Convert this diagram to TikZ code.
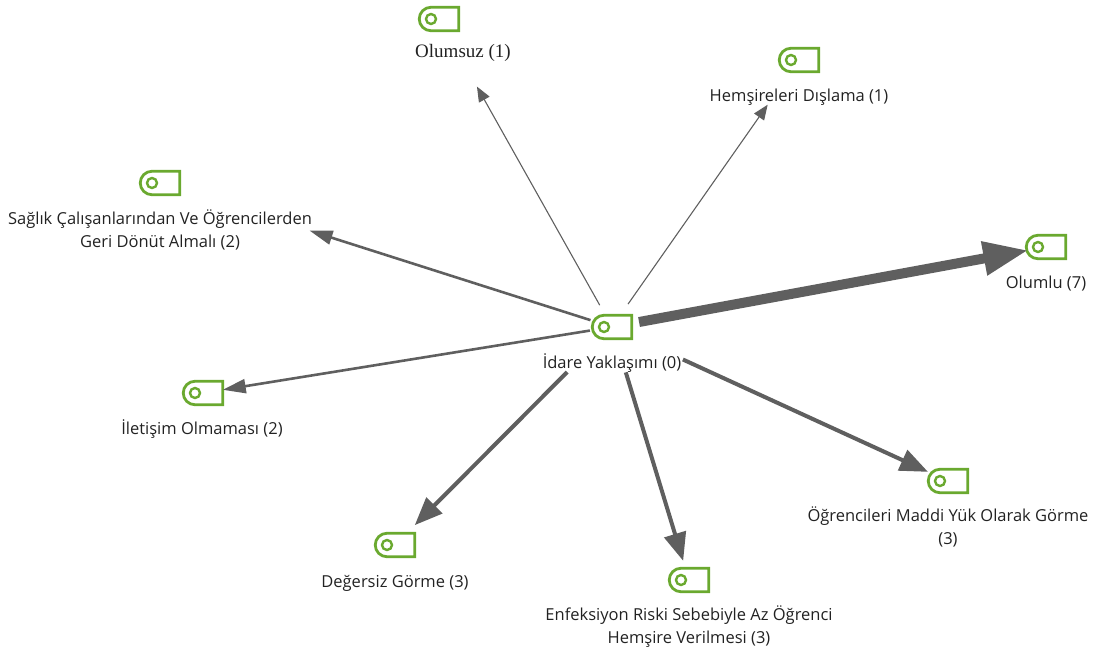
\documentclass[tikz,border=0pt]{standalone}
\usepackage{fontspec}
\setmainfont{Open Sans}
\newfontfamily\serifname{Liberation Serif}
\usetikzlibrary{arrows.meta}
\usetikzlibrary{positioning}
\usetikzlibrary{shapes.misc}
\definecolor{taggreen}{HTML}{6AA92F}
\definecolor{linkgray}{HTML}{5F5F5F}
\definecolor{labelblack}{HTML}{222222}
\tikzset{
	tagnode/.style={rounded rectangle, rounded rectangle east arc=none, draw=taggreen, line width=2.8pt,
		inner sep=0pt, minimum width=39.5pt, minimum height=23.5pt,
		path picture={\draw[taggreen, line width=2.4pt] ([xshift=-8pt]path picture bounding box.center) circle (5pt);}},
	taglabel/.style={below=16pt of #1, align=center, inner sep=0pt, text=labelblack,
		font=\fontsize{16.5}{23}\selectfont},
	thinlink/.style={draw=linkgray, line width=1.1pt, -{Triangle[length=15pt,width=12pt]}},
	lightlink/.style={draw=linkgray, line width=2.6pt, -{Triangle[length=23pt,width=14pt]}},
	midlink/.style={draw=linkgray, line width=4pt, -{Triangle[length=28pt,width=22pt]}},
	heavylink/.style={draw=linkgray, line width=10pt, -{Triangle[length=45pt,width=32pt]}},
}

\begin{document}
\begin{tikzpicture}[x=1pt,y=-1pt]
	\useasboundingbox (0,0) rectangle (1093,653);
	\node[tagnode] (IY) at (612,327) {};
	\node[tagnode] (OS) at (439,19) {};
	\node[tagnode] (HD) at (799,60) {};
	\node[tagnode] (SC) at (160,183) {};
	\node[tagnode] (OL) at (1046,247) {};
	\node[tagnode] (IO) at (203,393) {};
	\node[tagnode] (DG) at (395,545) {};
	\node[tagnode] (ER) at (689,580) {};
	\node[tagnode] (OM) at (948,481) {};
	\node[taglabel=IY, yshift=3pt] (IYtext) {İdare Yaklaşımı (0)};
	\node[taglabel=OS, xshift=24pt, yshift=4pt, font=\fontsize{19}{23}\serifname] (OStext) {Olumsuz (1)};
	\node[taglabel=HD] (HDtext) {Hemşireleri Dışlama (1)};
	\node[taglabel=SC, yshift=3pt] (SCtext) {Sağlık Çalışanlarından Ve Öğrencilerden\\Geri Dönüt Almalı (2)};
	\node[taglabel=OL] (OLtext) {Olumlu (7)};
	\node[taglabel=IO, xshift=-1pt, yshift=3pt] (IOtext) {İletişim Olmaması (2)};
	\node[taglabel=DG, yshift=-1pt] (DGtext) {Değersiz Görme (3)};
	\node[taglabel=ER, yshift=4pt] (ERtext) {Enfeksiyon Riski Sebebiyle Az Öğrenci\\Hemşire Verilmesi (3)};
	\node[taglabel=OM, yshift=4pt] (OMtext) {Öğrencileri Maddi Yük Olarak Görme\\(3)};
	\path
	(IY.center)	edge [thinlink, shorten <=25pt, shorten >=77.5pt]	(OS.center)
	(IY.center)	edge [thinlink, shorten <=28pt, shorten >=54.6pt]	(HD.center)
	(IY.center)	edge [lightlink, shorten <=22.6pt, shorten >=157pt]	(SC.center)
	(IY.center)	edge [heavylink, shorten <=27.5pt, shorten >=18pt]	(OL.center)
	(IY.center)	edge [lightlink, shorten <=22.4pt, shorten >=20pt]	(IO.center)
	(IY.center)	edge [midlink, shorten <=63.6pt, shorten >=28pt]	(DG.center)
	(IY.center)	edge [midlink, shorten <=47.4pt, shorten >=20pt]	(ER.center)
	(IY.center)	edge [midlink, shorten <=78pt, shorten >=22pt]	(OM.center);
\end{tikzpicture}
\end{document}
